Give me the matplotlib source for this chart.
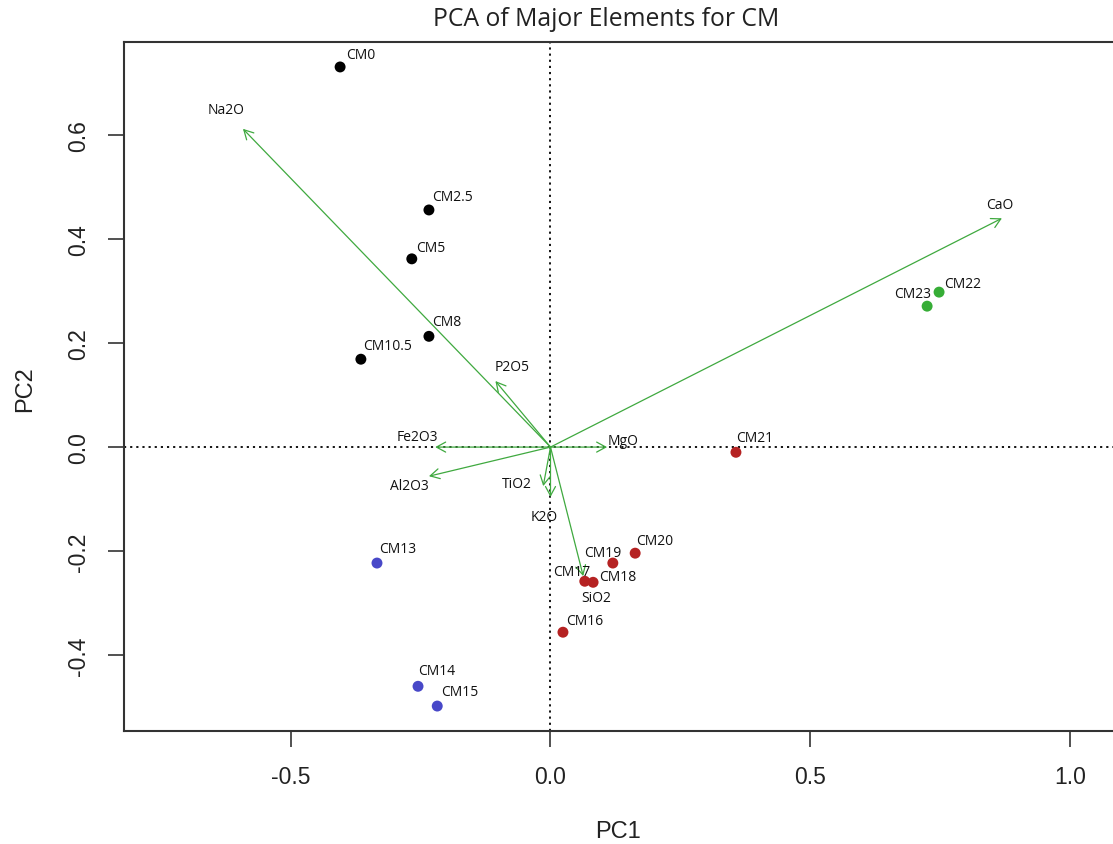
import matplotlib
matplotlib.use("Agg")
import matplotlib.pyplot as plt

# Sample scores on the first two principal components
samples = ["CM0", "CM2.5", "CM5", "CM8", "CM10.5", "CM13", "CM14", "CM15",
           "CM16", "CM17", "CM18", "CM19", "CM20", "CM21", "CM22", "CM23"]
pc1 = [-0.405, -0.234, -0.267, -0.234, -0.365, -0.334, -0.255, -0.218,
       0.024, 0.066, 0.082, 0.120, 0.163, 0.357, 0.748, 0.725]
pc2 = [0.731, 0.456, 0.362, 0.213, 0.169, -0.223, -0.460, -0.498,
       -0.356, -0.258, -0.260, -0.223, -0.204, -0.010, 0.298, 0.271]
groups = ["a", "a", "a", "a", "a", "b", "b", "b",
          "c", "c", "c", "c", "c", "c", "d", "d"]

# Variable loadings (arrow tips)
elements = ["Na2O", "CaO", "P2O5", "Fe2O3", "Al2O3", "MgO", "TiO2", "K2O", "SiO2"]
load1 = [-0.592, 0.869, -0.106, -0.222, -0.234, 0.109, -0.014, 0.000, 0.063]
load2 = [0.612, 0.440, 0.127, 0.000, -0.056, 0.000, -0.075, -0.096, -0.248]

group_colors = {"a": "#000000", "b": "#4848c8", "c": "#b52222", "d": "#36ad36"}
arrow_color = "#3fa93f"

# label placement (pixel offsets from the mark)
sample_offsets = [(21, 12), (24, 13), (19, 11), (18, 15), (27, 14), (21, 15),
                  (19, 16), (23, 15), (22, 12), (-13, 10), (25, 6), (-10, 11),
                  (20, 13), (19, 15), (24, 9), (-14, 13)]
element_offsets = [(-17, 19), (-2, 14), (17, 15), (-18, 11), (-20, -9),
                   (16, 7), (-26, 3), (-6, -19), (13, -21)]

W, H = 1113, 845
fig = plt.figure(figsize=(W / 100, H / 100), dpi=100)
ax = fig.add_axes([124 / W, (H - 731.5) / H, (1116 - 124) / W, (731.5 - 43) / H])
ax.set_xlim(-0.821, 1.0886)
ax.set_ylim(-0.545, 0.779)

ax.axhline(0, color="black", lw=1.3, ls=(0, (1.2, 2.2)), zorder=1)
ax.axvline(0, color="black", lw=1.3, ls=(0, (1.2, 2.2)), zorder=1)

label_font = dict(family=["Open Sans", "DejaVu Sans"], fontsize=10, color="#111111")

for x, y, lab, (dx, dy) in zip(load1, load2, elements, element_offsets):
    ax.annotate("", xy=(x, y), xytext=(0, 0),
                arrowprops=dict(arrowstyle="->,head_length=0.55,head_width=0.3",
                                mutation_scale=12, color=arrow_color, lw=0.9,
                                shrinkA=0, shrinkB=0), zorder=2)
    ax.annotate(lab, xy=(x, y), xytext=(dx, dy), textcoords="offset pixels",
                ha="center", va="center", zorder=4, **label_font)

for x, y, lab, g, (dx, dy) in zip(pc1, pc2, samples, groups, sample_offsets):
    ax.scatter([x], [y], s=62, color=group_colors[g], edgecolors="none", zorder=3)
    ax.annotate(lab, xy=(x, y), xytext=(dx, dy), textcoords="offset pixels",
                ha="center", va="center", zorder=4, **label_font)

ax.set_xticks([-0.5, 0.0, 0.5, 1.0])
ax.set_xticklabels(["-0.5", "0.0", "0.5", "1.0"])
ax.set_yticks([-0.4, -0.2, 0.0, 0.2, 0.4, 0.6])
ax.set_yticklabels(["-0.4", "-0.2", "0.0", "0.2", "0.4", "0.6"], rotation=90, va="center")

tick_font = ["Liberation Sans", "DejaVu Sans"]
for t in ax.get_xticklabels() + ax.get_yticklabels():
    t.set_family(tick_font)
    t.set_fontsize(16.5)
    t.set_color("#222222")
ax.tick_params(axis="both", length=11.5, width=1.2, color="#333333")
ax.tick_params(axis="x", pad=13)
ax.tick_params(axis="y", pad=13)
for sp in ax.spines.values():
    sp.set_linewidth(1.5)
    sp.set_color("#333333")

fig.text(606 / W, 1 - 19 / H, "PCA of Major Elements for CM", ha="center", va="center",
         fontsize=17.8, family=["Open Sans", "DejaVu Sans"], color="#222222")
fig.text(618 / W, 1 - 832 / H, "PC1", ha="center", va="center",
         fontsize=17, family=tick_font, color="#222222")
fig.text(25 / W, 1 - 389 / H, "PC2", ha="center", va="center", rotation=90,
         fontsize=17, family=tick_font, color="#222222")

fig.savefig("out.png", dpi=100)
